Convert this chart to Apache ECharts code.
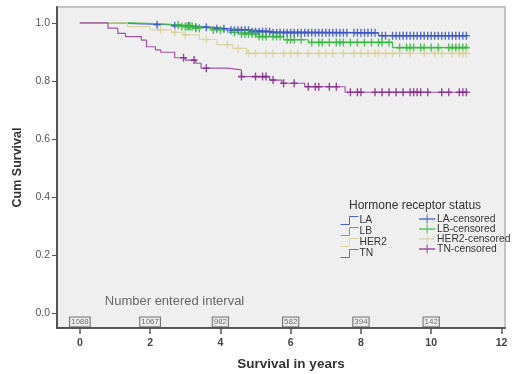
<!DOCTYPE html>
<html><head><meta charset="utf-8">
<script src="https://cdn.jsdelivr.net/npm/echarts@6/dist/echarts.min.js"></script>
<style>html,body{margin:0;padding:0;background:#fff}#c{width:515px;height:374px}</style>
</head><body><div id="c"></div>
<script>
// ---- data ----
const groups = ['LA', 'LB', 'HER2', 'TN'];
const stepLA   = [[0,1],[0.9,0.997],[1.8,0.994],[2.5,0.99],[3.2,0.985],[3.8,0.98],[4.3,0.975],[4.9,0.97],[5.5,0.966],[8.5,0.956],[11.05,0.956]];
const stepLB   = [[0,1],[1.5,0.997],[2.3,0.993],[2.9,0.988],[3.3,0.982],[3.7,0.976],[4.2,0.968],[4.6,0.962],[5.1,0.953],[5.8,0.942],[6.5,0.933],[8.9,0.915],[11.05,0.915]];
const stepHER2 = [[0,1],[1.35,0.987],[2.0,0.976],[2.6,0.968],[2.95,0.959],[3.4,0.943],[3.9,0.925],[4.35,0.912],[4.75,0.895],[11.05,0.895]];
const stepTN   = [[0,1],[0.8,0.982],[1.08,0.964],[1.3,0.953],[1.75,0.941],[1.9,0.918],[2.15,0.907],[2.3,0.899],[2.7,0.88],[3.0,0.872],[3.3,0.861],[3.45,0.844],[4.2,0.838],[4.6,0.815],[5.4,0.803],[5.75,0.792],[6.4,0.78],[7.55,0.761],[11.05,0.761]];
const censLA   = [2.2,2.7,3.1,3.3,3.6,3.9,4.1,4.3,4.4,4.5,4.6,4.7,4.8,4.9,5.0,5.1,5.2,5.3,5.4,5.5,5.6,5.7,5.8,5.9,6.0,6.1,6.2,6.3,6.4,6.5,6.6,6.7,6.8,6.9,7.0,7.1,7.2,7.3,7.4,7.5,7.6,7.8,7.9,8.0,8.1,8.2,8.3,8.4,8.6,8.7,8.9,9.0,9.1,9.2,9.3,9.4,9.5,9.6,9.7,9.8,9.9,10.0,10.1,10.2,10.3,10.4,10.5,10.6,10.7,10.8,10.9,11.0];
const censLB   = [2.8,2.9,3.0,3.05,3.1,3.15,3.2,3.3,3.4,3.8,4.0,4.4,4.6,4.7,4.8,4.9,5.0,5.1,5.2,5.3,5.5,5.6,5.7,5.9,6.0,6.1,6.3,6.6,6.8,6.9,7.1,7.3,7.4,7.5,7.7,7.9,8.1,8.3,8.5,8.6,8.8,9.1,9.3,9.4,9.5,9.7,9.8,10.0,10.2,10.5,10.6,10.7,10.8,10.9,11.0];
const censHER2 = [2.3,2.7,3.0,3.6,4.2,4.5,4.8,5.0,5.3,5.5,5.8,6.0,6.2,6.5,6.8,7.0,7.2,7.5,7.8,8.0,8.2,8.4,8.5,8.7,8.9,9.1,9.4,9.8,10.1,10.3,10.6,10.8,10.9,11.0];
const censTN   = [2.95,3.25,3.6,4.6,5.0,5.2,5.3,5.5,5.8,6.1,6.5,6.7,6.8,7.1,7.3,7.7,7.9,8.0,8.4,8.6,8.8,9.0,9.2,9.4,9.5,9.6,9.7,9.9,10.3,10.5,10.8,10.9,11.0];
const atRiskTimes = [0, 2, 4, 6, 8, 10];
const atRiskCounts = [1088, 1067, 982, 582, 394, 142];
const xTicks = [0, 2, 4, 6, 8, 10, 12];
const yTicks = [0, 0.2, 0.4, 0.6, 0.8, 1.0];

// ---- build ----
const colors = {LA:'#3b56c4', LB:'#35b840', HER2:'#d9d19c', TN:'#84288a'};
const lineColors = {LA:'#4a63c8', LB:'#48be50', HER2:'#ddd5a6', TN:'#a055a2'};
const steps = {LA:stepLA, LB:stepLB, HER2:stepHER2, TN:stepTN};
const cens = {LA:censLA, LB:censLB, HER2:censHER2, TN:censTN};
function survAt(step, t){ let v = step[0][1]; for (const p of step){ if (p[0] <= t) v = p[1]; } return v; }
const plus = 'path://M4,0 L6,0 L6,4 L10,4 L10,6 L6,6 L6,10 L4,10 L4,6 L0,6 L0,4 L4,4 Z';
const widePlus = 'path://M0,4.3 L18,4.3 L18,5.7 L0,5.7 Z M8.4,0 L9.6,0 L9.6,10 L8.4,10 Z';
const stepIcon = 'path://M0,9 L9,9 L9,1 L18,1';
const series = [];
groups.forEach(g => {
  series.push({name:g, type:'line', step:'end', data:steps[g], symbol:'none',
    lineStyle:{color:lineColors[g], width:1.2}, itemStyle:{color:lineColors[g]}, z:2});
});
groups.forEach(g => {
  series.push({name:g+'-censored', type:'scatter', symbol:plus, symbolSize:[7,8],
    data:cens[g].map(t => [t, survAt(steps[g], t)]), itemStyle:{color:colors[g], opacity:0.85}, z:3});
});
series.push({type:'scatter', symbolSize:0, silent:true, z:5,
  data: atRiskTimes.map((t,i) => ({value:[t, -0.031], n:atRiskCounts[i]})),
  label:{show:true, position:'inside', formatter:p => String(p.data.n), fontSize:8, color:'#444',
    fontFamily:'Liberation Sans', borderColor:'#555', borderWidth:1, padding:[1,1,0,1], backgroundColor:'#f4f4f4'}});
series.push({type:'scatter', symbolSize:0, silent:true, z:5, data:[[0.71, 0.038]],
  label:{show:true, position:'right', distance:0, formatter:'Number entered interval', fontSize:13, color:'#444', fontFamily:'Liberation Sans'}});

const legendLeft = groups.map(g => ({name:g, icon:stepIcon, itemStyle:{color:'none', borderColor:lineColors[g], borderWidth:1}}));
const legendRight = groups.map(g => ({name:g+'-censored', icon:widePlus, itemStyle:{color:colors[g], opacity:0.8}}));
const legendText = {fontSize:10.3, lineHeight:10, color:'#333', fontFamily:'Liberation Sans', padding:[0,0,0,-4]};

const chart = echarts.init(document.getElementById('c'));
chart.setOption({
  animation:false,
  backgroundColor:'#ffffff',
  textStyle:{fontFamily:'Liberation Sans'},
  title:{text:'Hormone receptor status', left:344, top:195, textStyle:{fontSize:12, fontWeight:'normal', color:'#333', fontFamily:'Liberation Sans'}},
  grid:{left:57, right:10, top:7, bottom:46, show:true, outerBoundsMode:'none', containLabel:false,
    backgroundColor:'#efefef', borderColor:'#c4c4c4', borderWidth:2},
  legend:[
    {data:legendLeft, orient:'vertical', left:333, top:209, itemWidth:18, itemHeight:9, itemGap:-2, textStyle:legendText, selectedMode:false},
    {data:legendRight, orient:'vertical', left:414, top:209, itemWidth:18, itemHeight:9, itemGap:0, textStyle:legendText, selectedMode:false}
  ],
  xAxis:{type:'value', min:-0.65, max:12.1, name:'Survival in years', nameLocation:'middle', nameGap:29,
    nameTextStyle:{fontSize:13.5, fontWeight:'bold', color:'#333', padding:[0,0,0,20]},
    axisLine:{onZero:false, lineStyle:{color:'#555', width:2}},
    axisTick:{customValues:xTicks, length:6, lineStyle:{color:'#555', width:1.5}},
    axisLabel:{customValues:xTicks, fontSize:10.5, fontWeight:'bold', color:'#444', margin:10},
    splitLine:{show:false}},
  yAxis:{type:'value', min:-0.052, max:1.055, name:'Cum Survival', nameLocation:'middle', nameGap:32,
    nameTextStyle:{fontSize:12.5, fontWeight:'bold', color:'#333'},
    axisLine:{onZero:false, lineStyle:{color:'#555', width:2}},
    axisTick:{customValues:yTicks, length:5, lineStyle:{color:'#555', width:1}},
    axisLabel:{customValues:yTicks, formatter:v => v.toFixed(1), fontSize:10.5, color:'#555', margin:7},
    splitLine:{show:false}},
  series:series
});
</script></body></html>
